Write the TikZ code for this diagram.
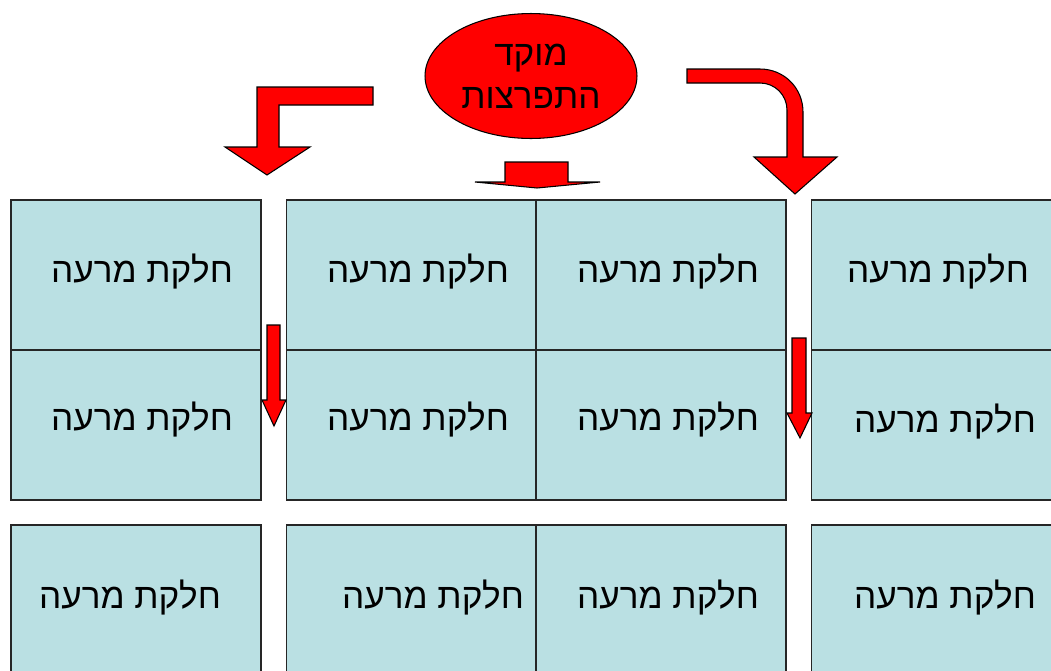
\documentclass[tikz,border=0pt]{standalone}
\usepackage{fontspec}
\usetikzlibrary{shapes.geometric}
\newfontfamily\hebfont[Script=Hebrew]{Liberation Sans}
\TeXXeTstate=1
\definecolor{pastureblue}{HTML}{BAE0E3}
\newcommand{\heb}[1]{\beginR #1\endR}

\begin{document}
\begin{tikzpicture}[x=0.02cm, y=-0.02cm,
    pasture/.style={draw=black!85, fill=pastureblue, line width=0.6pt, minimum width=5cm, minimum height=3cm, inner sep=0pt},
    lbl/.style={font=\fontsize{20}{24.5}\selectfont\hebfont, align=center},
    redshape/.style={draw=black, fill=red, line width=0.6pt}]

    \useasboundingbox (0,0) rectangle (1051,670);

    % Pasture plots, row by row
    \node[pasture] (p11) at (136, 275) {};
    \node[pasture] (p12) at (411, 275) {};
    \node[pasture] (p13) at (661, 275) {};
    \node[pasture] (p14) at (936, 275) {};
    \node[pasture] (p21) at (136, 425) {};
    \node[pasture] (p22) at (411, 425) {};
    \node[pasture] (p23) at (661, 425) {};
    \node[pasture] (p24) at (936, 425) {};
    \node[pasture] (p31) at (136, 600) {};
    \node[pasture] (p32) at (411, 600) {};
    \node[pasture] (p33) at (661, 600) {};
    \node[pasture] (p34) at (936, 600) {};

    % Labels
    \node[lbl] (t11) at (142, 272) {\heb{חלקת מרעה}};
    \node[lbl] (t12) at (418, 272) {\heb{חלקת מרעה}};
    \node[lbl] (t13) at (668, 272) {\heb{חלקת מרעה}};
    \node[lbl] (t14) at (938, 272) {\heb{חלקת מרעה}};
    \node[lbl] (t21) at (142, 420) {\heb{חלקת מרעה}};
    \node[lbl] (t22) at (418, 420) {\heb{חלקת מרעה}};
    \node[lbl] (t23) at (668, 420) {\heb{חלקת מרעה}};
    \node[lbl] (t24) at (945, 422) {\heb{חלקת מרעה}};
    \node[lbl] (t31) at (130, 598) {\heb{חלקת מרעה}};
    \node[lbl] (t32) at (433, 598) {\heb{חלקת מרעה}};
    \node[lbl] (t33) at (668, 598) {\heb{חלקת מרעה}};
    \node[lbl] (t34) at (945, 598) {\heb{חלקת מרעה}};

    % Outbreak focus
    \node[ellipse, redshape, minimum width=4.24cm, minimum height=2.5cm, inner sep=0pt,
          lbl] (focus) at (531, 76) {\heb{מוקד}\\\heb{התפרצות}};

    % Bent arrow to the left
    \draw[redshape] (373,87) -- (257,87) -- (257,147) -- (225,147) -- (267,175)
        -- (310,147) -- (279,147) -- (279,105) -- (373,105) -- cycle;

    % Flat arrow below the focus
    \draw[redshape] (505,162) -- (568,162) -- (568,182) -- (600,182) -- (537,188)
        -- (475,182) -- (505,182) -- cycle;

    % Curved arrow to the right
    \draw[redshape] (687,69) -- (760,69) .. controls (784,69) and (803,88) .. (803,112)
        -- (803,157) -- (837,157) -- (795,194) -- (754,157) -- (787,157) -- (787,110)
        .. controls (787,95) and (775,83) .. (760,83) -- (687,83) -- cycle;

    % Small arrows in the gaps
    \draw[redshape] (267,325) -- (280,325) -- (280,400) -- (286,400) -- (274,426)
        -- (262,400) -- (267,400) -- cycle;
    \draw[redshape] (792,338) -- (806,338) -- (806,413) -- (812,413) -- (800,438)
        -- (787,413) -- (792,413) -- cycle;

\end{tikzpicture}
\end{document}
